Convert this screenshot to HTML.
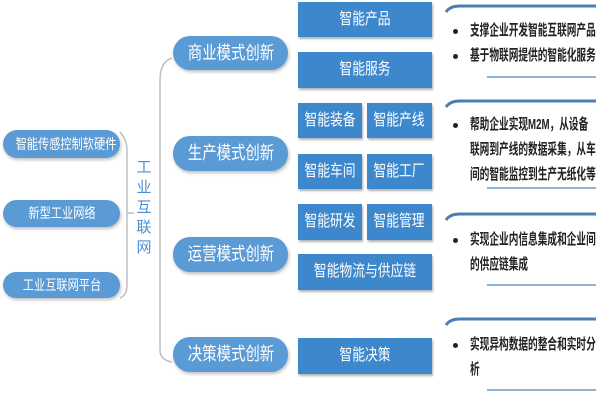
<!DOCTYPE html>
<html><head><meta charset="utf-8"><style>
body{margin:0;width:600px;height:400px;background:#fff;position:relative;overflow:hidden;font-family:"Liberation Sans","Noto Sans CJK SC",sans-serif;}
.p{position:absolute;background:#5b9bd5;color:#fff;border-radius:14px;text-align:center;box-shadow:1px 2px 3px rgba(0,0,0,.25);white-space:nowrap;}
.b{position:absolute;background:#3d87cc;color:#fff;text-align:center;box-shadow:1px 2px 2px rgba(0,0,0,.3);font-size:16px;white-space:nowrap;}
.s{display:inline-block;transform:scaleX(.8);}
.t{position:absolute;font-size:15px;font-weight:bold;color:#222;line-height:25px;left:470px;white-space:nowrap;transform:scaleX(.645);transform-origin:0 0;}
.d{position:absolute;left:453px;width:5px;height:5px;border-radius:50%;background:#222;}
</style></head><body>
<svg width="600" height="400" style="position:absolute;left:0;top:0">
<g fill="none" stroke="#bfbfbf" stroke-width="1.5">
<path d="M120,132 Q127,140 127,150 L127,285 Q127,295 120,298"/>
<path d="M128,213 L134,213"/>
<path d="M172,58 Q160,62 160,80 L160,350 Q160,360 172,362"/>
</g>
<g fill="none" stroke="#4a7fb5" stroke-width="3">
<path d="M446,12 Q450,6 460,6 L596,6"/><path d="M446,107 Q450,101 460,101 L596,101"/>
<path d="M446,220 Q450,214 460,214 L596,214"/><path d="M446,325 Q450,319 460,319 L596,319"/>
</g>
<g stroke="#8fb3d9" stroke-width="2">
<path d="M487,77 L596,77"/><path d="M487,188 L596,188"/><path d="M487,285 L596,285"/><path d="M487,390 L596,390"/>
</g>
</svg>
<div class="p" style="left:3px;top:130px;width:117px;height:28px;line-height:28px;font-size:14px"><span class="s">智能传感控制软硬件</span></div>
<div class="p" style="left:3px;top:200px;width:117px;height:27px;line-height:27px;font-size:14px"><span class="s">新型工业网络</span></div>
<div class="p" style="left:3px;top:272px;width:117px;height:26px;line-height:26px;font-size:14px"><span class="s">工业互联网平台</span></div>
<div style="position:absolute;left:136px;top:158px;width:16px;font-size:15px;line-height:20px;color:#4f8fcf;text-align:center">工业互联网</div>
<div class="p" style="left:173px;top:36px;width:115px;height:34px;line-height:34px;font-size:18px;border-radius:17px"><span class="s">商业模式创新</span></div>
<div class="p" style="left:173px;top:136px;width:115px;height:35px;line-height:35px;font-size:18px;border-radius:17px"><span class="s">生产模式创新</span></div>
<div class="p" style="left:173px;top:237px;width:115px;height:35px;line-height:35px;font-size:18px;border-radius:17px"><span class="s">运营模式创新</span></div>
<div class="p" style="left:173px;top:337px;width:115px;height:35px;line-height:35px;font-size:18px;border-radius:17px"><span class="s">决策模式创新</span></div>
<div class="b" style="left:298px;top:2px;width:134px;height:35px;line-height:35px"><span class="s">智能产品</span></div>
<div class="b" style="left:298px;top:52px;width:134px;height:36px;line-height:36px"><span class="s">智能服务</span></div>
<div class="b" style="left:298px;top:103px;width:64px;height:35px;line-height:35px"><span class="s">智能装备</span></div>
<div class="b" style="left:367px;top:103px;width:65px;height:35px;line-height:35px"><span class="s">智能产线</span></div>
<div class="b" style="left:298px;top:154px;width:64px;height:35px;line-height:35px"><span class="s">智能车间</span></div>
<div class="b" style="left:367px;top:154px;width:65px;height:35px;line-height:35px"><span class="s">智能工厂</span></div>
<div class="b" style="left:298px;top:204px;width:64px;height:36px;line-height:36px"><span class="s">智能研发</span></div>
<div class="b" style="left:367px;top:204px;width:65px;height:36px;line-height:36px"><span class="s">智能管理</span></div>
<div class="b" style="left:298px;top:254px;width:134px;height:36px;line-height:36px"><span class="s">智能物流与供应链</span></div>
<div class="b" style="left:298px;top:338px;width:134px;height:36px;line-height:36px"><span class="s">智能决策</span></div>
<div class="d" style="top:29px"></div><div class="t" style="top:18px">支撑企业开发智能互联网产品</div>
<div class="d" style="top:54px"></div><div class="t" style="top:43px">基于物联网提供的智能化服务</div>
<div class="d" style="top:123px"></div><div class="t" style="top:112px">帮助企业实现M2M，从设备<br>联网到产线的数据采集，从车<br>间的智能监控到生产无纸化等</div>
<div class="d" style="top:238px"></div><div class="t" style="top:227px">实现企业内信息集成和企业间<br>的供应链集成</div>
<div class="d" style="top:343px"></div><div class="t" style="top:332px">实现异构数据的整合和实时分<br>析</div>
</body></html>
